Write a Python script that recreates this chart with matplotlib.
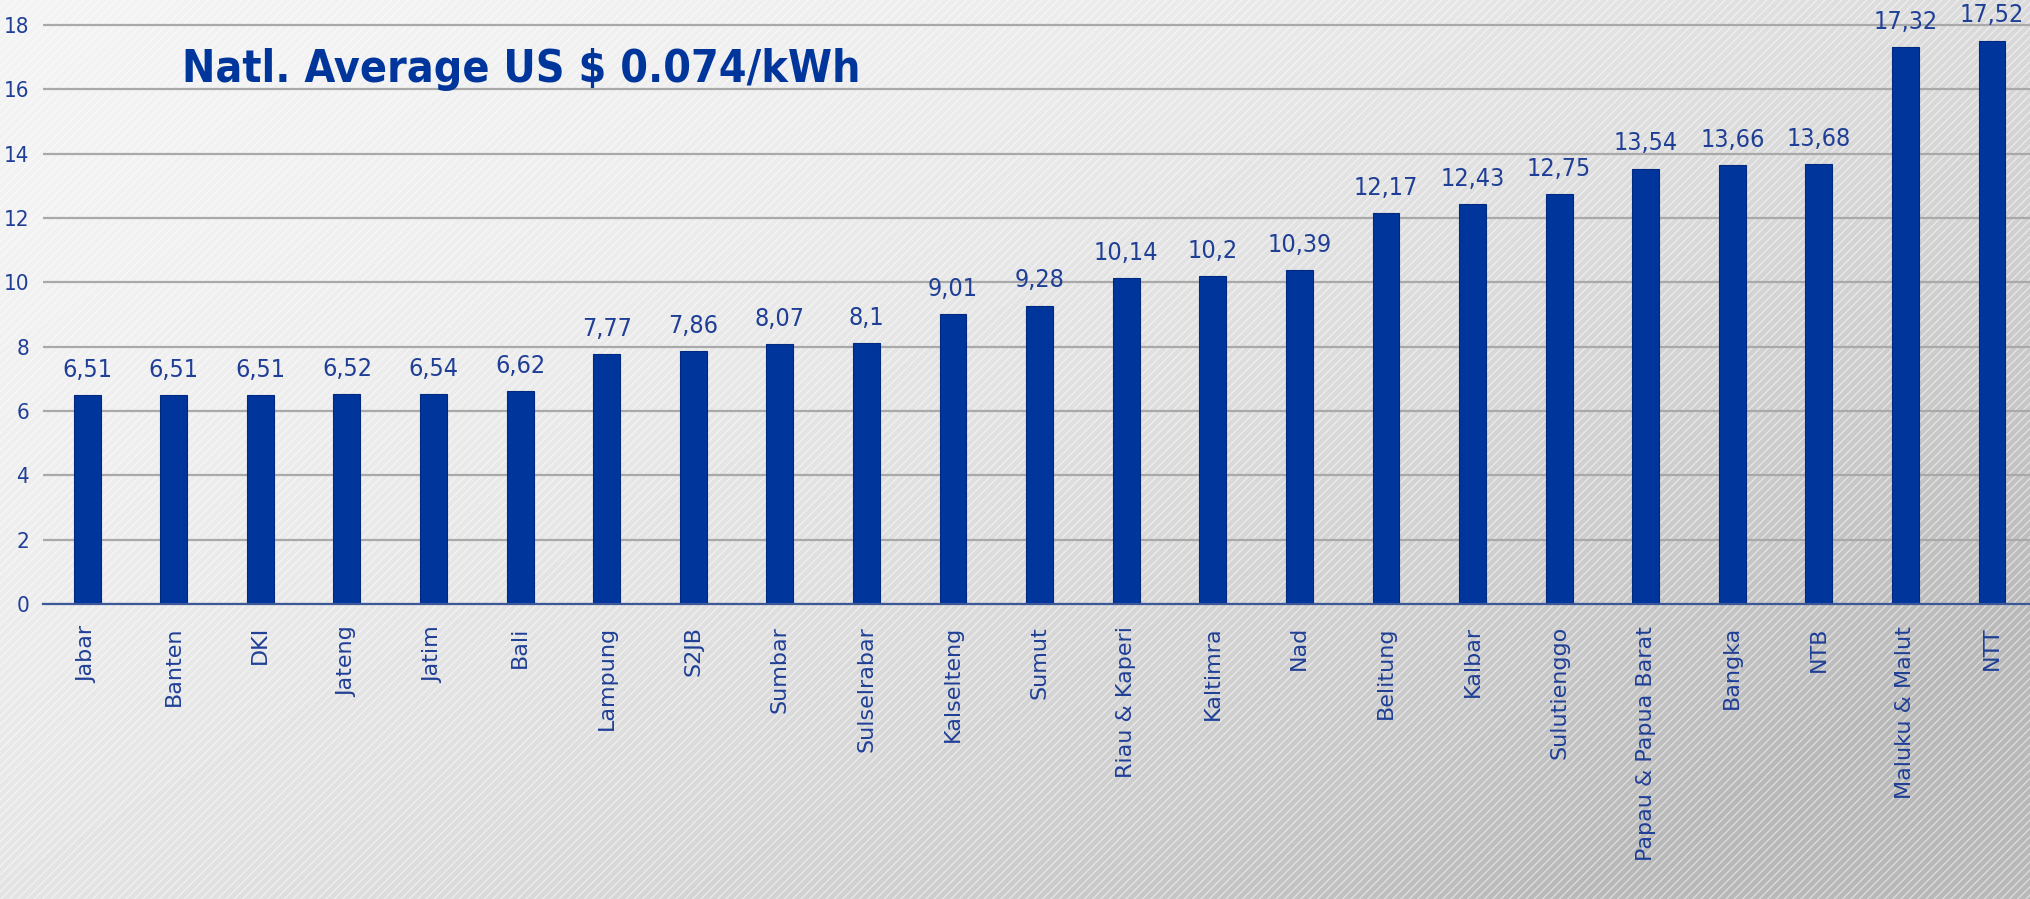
import numpy as np
import matplotlib
matplotlib.use("Agg")
import matplotlib.pyplot as plt
from matplotlib.patches import Rectangle
from matplotlib.font_manager import FontProperties, findfont

regions = ["Jabar", "Banten", "DKI", "Jateng", "Jatim", "Bali", "Lampung", "S2JB",
           "Sumbar", "Sulselrabar", "Kalselteng", "Sumut", "Riau & Kaperi", "Kaltimra",
           "Nad", "Belitung", "Kalbar", "Sulutienggo", "Papau & Papua Barat", "Bangka",
           "NTB", "Maluku & Malut", "NTT"]
costs = [6.51, 6.51, 6.51, 6.52, 6.54, 6.62, 7.77, 7.86, 8.07, 8.1, 9.01, 9.28,
         10.14, 10.2, 10.39, 12.17, 12.43, 12.75, 13.54, 13.66, 13.68, 17.32, 17.52]
y_ticks = [0, 2, 4, 6, 8, 10, 12, 14, 16, 18]
title_text = "Natl. Average US $ 0.074/kWh"

BAR_COLOR = "#00359c"
TEXT_COLOR = "#1f3f96"

# narrow font for the numbers and title, if a condensed face is around
cond_file = findfont(FontProperties(family="DejaVu Sans", stretch="condensed"))
if "Condensed" in cond_file:
    narrow = dict(family="DejaVu Sans", fontstretch="condensed")
else:
    narrow = dict(family="Liberation Sans")

plt.rcParams["hatch.linewidth"] = 1.0

fig = plt.figure(figsize=(20.31, 8.99), dpi=100)

# background: grey gradient with fine diagonal stripes
bg = fig.add_axes([0, 0, 1, 1], zorder=-2)
gx, gy = np.meshgrid(np.linspace(0, 1, 400), np.linspace(1, 0, 200))
shade = 0.95 - 0.23 * np.clip((gx * 0.65 + (1 - gy) * 0.5), 0, 1) ** 2.0
bg.imshow(shade, extent=[0, 1, 0, 1], aspect="auto", cmap="gray", vmin=0, vmax=1)
bg.add_patch(Rectangle((0, 0), 1, 1, facecolor="none", edgecolor="white",
                       hatch="////", linewidth=0, alpha=0.5))
bg.set_xlim(0, 1)
bg.set_ylim(0, 1)
bg.axis("off")

ax = fig.add_axes([43 / 2031, 295 / 899, 1 - 43 / 2031, 604 / 899])
ax.patch.set_alpha(0)

x = np.arange(len(regions))
ax.bar(x, costs, width=0.31, color=BAR_COLOR, edgecolor="#002a80", linewidth=0.8, zorder=3)

for xi, v in zip(x, costs):
    ax.annotate(f"{v:g}".replace(".", ","), (xi, v), xytext=(0, 13), textcoords="offset points",
                ha="center", va="baseline", color=TEXT_COLOR, fontsize=18, **narrow)

ax.set_xlim(-0.51, 22.45)
ax.set_ylim(0, 18.78)
ax.set_yticks(y_ticks)
ax.set_yticklabels([str(t) for t in y_ticks], color=TEXT_COLOR, fontsize=16, **narrow)
ax.set_xticks(x)
ax.set_xticklabels(regions, rotation=90, fontsize=16, color=TEXT_COLOR, va="top", ha="center")
ax.tick_params(axis="both", length=0)
ax.tick_params(axis="x", pad=16)
ax.tick_params(axis="y", pad=10)

ax.grid(axis="y", color="#a9a9a9", linewidth=1.6, zorder=1)
ax.set_axisbelow(True)
for side in ["top", "right", "left"]:
    ax.spines[side].set_visible(False)
ax.spines["bottom"].set_color("#3d5898")
ax.spines["bottom"].set_linewidth(1.6)
ax.spines["bottom"].set_zorder(4)

ax.text(0.07, 0.864, title_text, transform=ax.transAxes, fontweight="bold", fontsize=32,
        color="#00359c", ha="left", va="baseline", **narrow)

fig.savefig("out.png", dpi=100)
plt.close(fig)
